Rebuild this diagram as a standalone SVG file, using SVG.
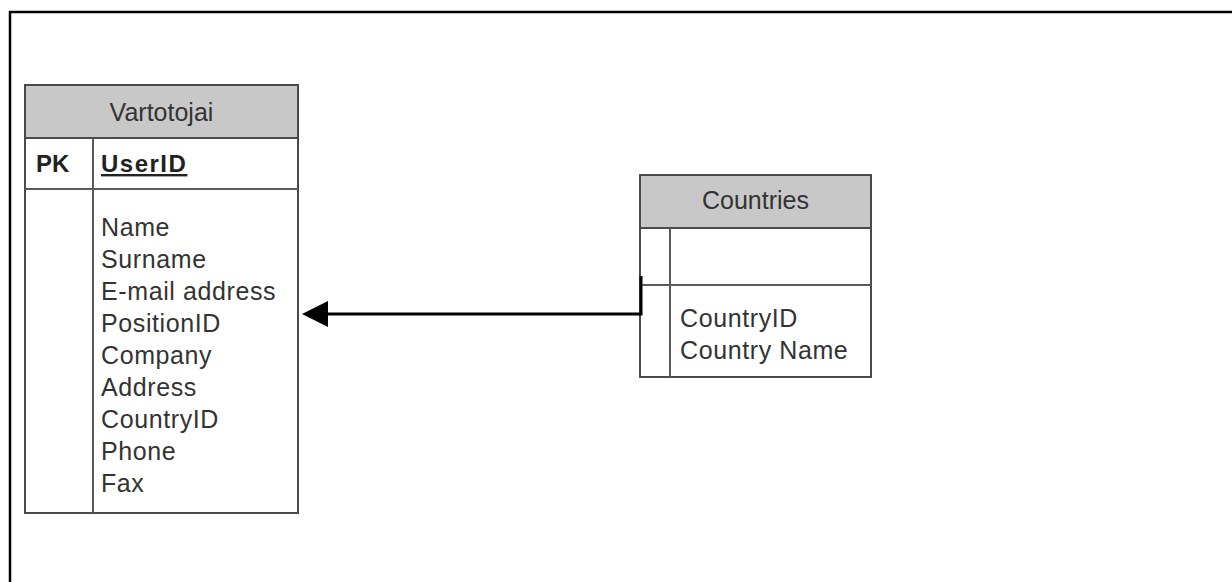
<svg xmlns="http://www.w3.org/2000/svg" width="1232" height="582" viewBox="0 0 1232 582">
  <style>
    .frame { fill: none; stroke: #000; stroke-width: 2.5; }
    .box { fill: #fff; stroke: #4a4a4a; stroke-width: 2; }
    .head { fill: #c8c8c8; stroke: #4a4a4a; stroke-width: 2; }
    .sep { stroke: #5a5a5a; stroke-width: 2; fill: none; }
    .title { font-family: "Liberation Sans", Arial, sans-serif; font-size: 25px; fill: #333; text-anchor: middle; }
    .field { font-family: "Liberation Sans", Arial, sans-serif; font-size: 25px; fill: #333; letter-spacing: 0.6px; }
    .key { font-family: "Liberation Sans", Arial, sans-serif; font-size: 24px; fill: #222; font-weight: bold; }
    .link { stroke: #000; stroke-width: 3; fill: none; }
  </style>

  <rect width="1232" height="582" fill="#fff"/>
  <!-- page frame -->
  <path class="frame" d="M10,582 V12 H1232"/>

  <!-- Vartotojai table -->
  <g id="vartotojai">
    <rect class="box" x="25" y="85" width="273" height="428"/>
    <rect class="head" x="25" y="85" width="273" height="53"/>
    <line class="sep" x1="25" y1="189" x2="298" y2="189"/>
    <line class="sep" x1="93" y1="138" x2="93" y2="513"/>
    <text class="title" x="161.5" y="121">Vartotojai</text>
    <text class="key" x="36" y="172">PK</text>
    <text class="key" x="101" y="172" font-size="25" letter-spacing="1.5" text-decoration="underline">UserID</text>
    <text class="field" x="101" y="236">Name</text>
    <text class="field" x="101" y="268">Surname</text>
    <text class="field" x="101" y="300">E-mail address</text>
    <text class="field" x="101" y="332">PositionID</text>
    <text class="field" x="101" y="364">Company</text>
    <text class="field" x="101" y="396">Address</text>
    <text class="field" x="101" y="428">CountryID</text>
    <text class="field" x="101" y="460">Phone</text>
    <text class="field" x="101" y="492">Fax</text>
  </g>

  <!-- Countries table -->
  <g id="countries">
    <rect class="box" x="640" y="175" width="231" height="202"/>
    <rect class="head" x="640" y="175" width="231" height="53"/>
    <line class="sep" x1="640" y1="285" x2="871" y2="285"/>
    <line class="sep" x1="670" y1="228" x2="670" y2="377"/>
    <text class="title" x="755.5" y="209">Countries</text>
    <text class="field" x="680" y="327">CountryID</text>
    <text class="field" x="680" y="359">Country Name</text>
  </g>

  <!-- relationship -->
  <g id="connectors">
    <path class="link" d="M641,276 V314 H326"/>
    <path d="M302,314 L328,301 L328,327 Z" fill="#000"/>
  </g>
</svg>
